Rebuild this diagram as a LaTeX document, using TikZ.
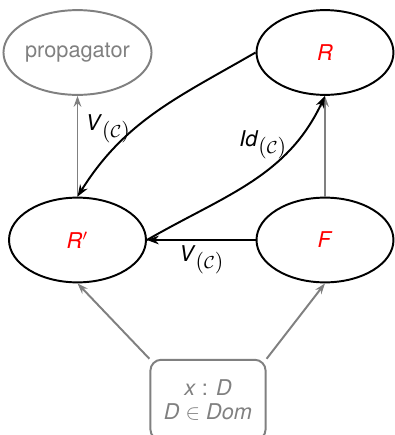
\documentclass[tikz,border=0pt]{standalone}
\usepackage{fontspec}
\setmainfont{TeX Gyre Heros}
\usetikzlibrary{arrows.meta,calc,positioning,shapes.geometric}
\definecolor{nodeGray}{HTML}{808080}
\definecolor{labelRed}{HTML}{FF0000}

\newcommand{\subc}{\raisebox{-3.5pt}{$(\mbox{\footnotesize$\mathcal{C}$})$}}

\begin{document}
\begin{tikzpicture}[
  x=0.46pt,y=0.46pt,
  font=\normalsize,
  setnode/.style={ellipse,draw,line width=0.9pt,minimum width=63pt,minimum height=39pt,inner sep=0pt},
  grayarrow/.style={draw=nodeGray,line width=0.9pt,-{Stealth[length=5pt,width=3.5pt]}},
  maparrow/.style={draw=black,line width=0.9pt,-{Stealth[length=5.5pt,width=4pt]}}
]
  \useasboundingbox (0,0) rectangle (394,435);

  \node[setnode,draw=nodeGray,text=nodeGray] (prop) at (77.5,382.5) {propagator};
  \node[setnode,text=labelRed] (R) at (325,382.5) {\textit{R}};
  \node[setnode,text=labelRed] (Rp) at (77.5,195) {\textit{R}$'$};
  \node[setnode,text=labelRed] (F) at (325,195) {\textit{F}};
  \node[draw=nodeGray,line width=0.9pt,text=nodeGray,rounded corners=5pt,minimum width=53pt,minimum height=37pt,align=center,inner sep=2pt] (dom) at (208,35) {
    \textit{x} : \textit{D}\\[-1pt]
    \textit{D} $\in$ \textit{Dom}
  };

  \draw[grayarrow] (Rp.north) -- (prop.south);
  \draw[grayarrow] (F.north) -- (R.south);
  \draw[grayarrow] (dom.north west) -- (Rp.south);
  \draw[grayarrow] (dom.north east) -- (F.south);

  \draw[maparrow] (R.west) to[out=210,in=58] node[pos=0.62,left,inner sep=2pt] {\textit{V}\subc} (Rp.north);
  \draw[maparrow] (Rp.east) to[out=30,in=245] node[pos=0.76,left,inner sep=3pt] {\textit{Id}\subc} (R.south);
  \draw[maparrow] (F.west) -- node[below,inner sep=2pt] {\textit{V}\subc} (Rp.east);
\end{tikzpicture}
\end{document}
